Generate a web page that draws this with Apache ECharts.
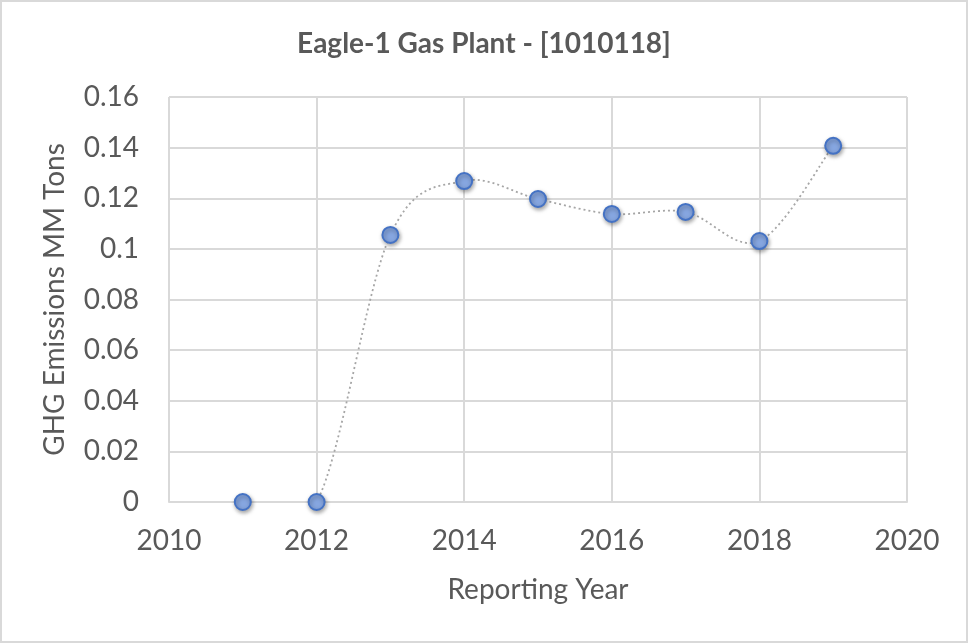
<!DOCTYPE html>
<html><head><meta charset="utf-8">
<script src="https://cdn.jsdelivr.net/npm/echarts@6/dist/echarts.min.js"></script>
<style>
html,body{margin:0;padding:0;background:#fff;}
#wrap{position:absolute;left:0;top:0;width:964px;height:639px;border:2px solid #d9d9d9;}
#c{width:964px;height:639px;}
</style></head>
<body><div id="wrap"><div id="c"></div></div>
<script>
const titleText = "Eagle-1 Gas Plant - [1010118]";
const years = [2011, 2012, 2013, 2014, 2015, 2016, 2017, 2018, 2019];
const emissions = [0, 0, 0.1055, 0.1268, 0.1197, 0.1138, 0.1146, 0.1031, 0.1407];
const xName = "Reporting Year";
const yName = "GHG Emissions MM Tons";

const font = "Lato, 'Open Sans', sans-serif";
const points = years.map((y, i) => [y, emissions[i]]);

// Smooth (Catmull-Rom style) connector, positioned through the chart's own axes via api.coord
function renderCurve(params, api) {
  if (params.dataIndex !== 0) return null;
  const p = points.map(pt => api.coord(pt));
  const n = p.length;
  let d = 'M' + p[0][0] + ' ' + p[0][1];
  for (let i = 0; i < n - 1; i++) {
    const a = p[Math.max(i - 1, 0)], b = p[i], c = p[i + 1], e = p[Math.min(i + 2, n - 1)];
    const c1x = b[0] + (c[0] - a[0]) / 6, c1y = b[1] + (c[1] - a[1]) / 6;
    const c2x = c[0] - (e[0] - b[0]) / 6, c2y = c[1] - (e[1] - b[1]) / 6;
    d += ' C' + c1x + ' ' + c1y + ' ' + c2x + ' ' + c2y + ' ' + c[0] + ' ' + c[1];
  }
  return {type: 'path', shape: {pathData: d},
    style: {fill: 'none', stroke: '#a6a6a6', lineWidth: 1.8, lineDash: [2, 3]}};
}

const chart = echarts.init(document.getElementById('c'));
chart.setOption({
  animation: false,
  title: {text: titleText, left: 'center', top: 23,
    textStyle: {fontFamily: font, fontSize: 28, fontWeight: 'bold', color: '#595959'}},
  grid: {left: 167, right: 59, top: 95, bottom: 139},
  xAxis: {type: 'value', min: 2010, max: 2020, interval: 2,
    name: xName, nameLocation: 'middle', nameGap: 74,
    nameTextStyle: {fontFamily: font, fontSize: 28, color: '#595959'},
    axisLine: {show: true, lineStyle: {color: '#d9d9d9', width: 2}},
    axisTick: {show: false},
    axisLabel: {fontFamily: font, fontSize: 28, color: '#595959', margin: 25,
      formatter: v => String(v)},
    splitLine: {show: true, lineStyle: {color: '#d9d9d9', width: 2}}},
  yAxis: {type: 'value', min: 0, max: 0.16, interval: 0.02,
    name: yName, nameLocation: 'middle', nameGap: 100,
    nameTextStyle: {fontFamily: font, fontSize: 28, color: '#595959'},
    axisLine: {show: false}, axisTick: {show: false},
    axisLabel: {fontFamily: font, fontSize: 28, color: '#595959', margin: 30,
      formatter: v => String(parseFloat(v.toFixed(2)))},
    splitLine: {show: true, lineStyle: {color: '#d9d9d9', width: 2}}},
  series: [{
    type: 'custom', clip: true, z: 2,
    data: points, encode: {x: 0, y: 1},
    renderItem: renderCurve
  }, {
    type: 'scatter', z: 3, clip: false,
    data: points,
    symbol: 'circle', symbolSize: 16,
    itemStyle: {color: '#86a6e0', borderColor: '#4472c4', borderWidth: 2, opacity: 1,
      shadowColor: 'rgba(0,0,0,0.35)', shadowBlur: 4, shadowOffsetX: 1, shadowOffsetY: 2}
  }]
});
</script></body></html>
